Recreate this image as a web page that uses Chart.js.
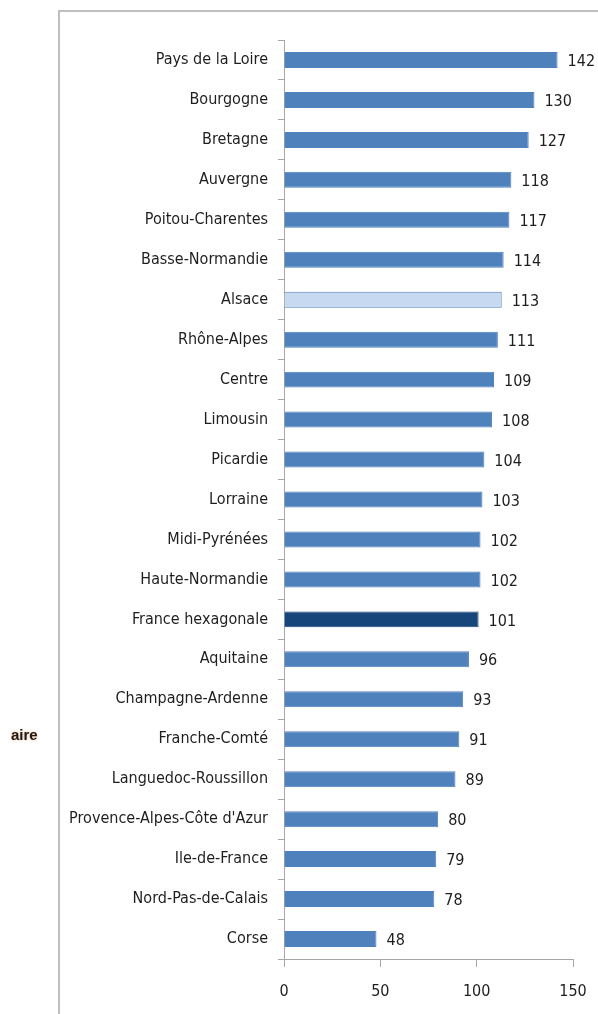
<!DOCTYPE html>
<html>
<head>
<meta charset="utf-8">
<script src="https://cdn.jsdelivr.net/npm/chart.js@4"></script>
<style>
  html, body { margin: 0; padding: 0; background: #fff; }
  #wrap { position: relative; width: 598px; height: 1014px; }
  #side { position: absolute; left: 11px; top: 726px; font: bold 15px "Liberation Sans", Arial, sans-serif; color: #1a1a1a; text-shadow: 0 0 3px #f5b48a; }
</style>
</head>
<body>
<div id="wrap">
  <canvas id="chart" width="598" height="1014"></canvas>
  <div id="side">aire</div>
</div>
<script>
// Regions, sorted as in the source chart
const regions = [
    'Pays de la Loire', 'Bourgogne', 'Bretagne', 'Auvergne', 'Poitou-Charentes',
    'Basse-Normandie', 'Alsace', 'Rhône-Alpes', 'Centre', 'Limousin', 'Picardie',
    'Lorraine', 'Midi-Pyrénées', 'Haute-Normandie', 'France hexagonale', 'Aquitaine',
    'Champagne-Ardenne', 'Franche-Comté', 'Languedoc-Roussillon',
    "Provence-Alpes-Côte d'Azur", 'Ile-de-France', 'Nord-Pas-de-Calais', 'Corse'
];
const values = [142, 130, 127, 118, 117, 114, 113, 111, 109, 108, 104, 103, 102, 102, 101, 96, 93, 91, 89, 80, 79, 78, 48];
const xTicks = [0, 50, 100, 150];

const highlightRegion = 'Alsace';
const referenceRegion = 'France hexagonale';

const colors = {
    bar: '#4F81BD',
    highlight: '#C6D9F1',
    reference: '#17477A',
    axis: '#A6A6A6',
    frame: '#BFBFBF',
    text: '#1e1e1e'
};
const fontFamily = '"Liberation Sans Narrow", "DejaVu Sans Condensed", Arial, sans-serif';

const fills = regions.map(r => r === highlightRegion ? colors.highlight : (r === referenceRegion ? colors.reference : colors.bar));
const borders = regions.map((r, i) => r === highlightRegion ? colors.bar : fills[i]);

// frame around the plot (from the original document)
const framePlugin = {
    id: 'frame',
    beforeDraw(chart) {
        const ctx = chart.ctx;
        ctx.save();
        ctx.strokeStyle = colors.frame;
        ctx.lineWidth = 2;
        ctx.beginPath();
        ctx.moveTo(59, 1014);
        ctx.lineTo(59, 11);
        ctx.lineTo(598, 11);
        ctx.stroke();
        ctx.restore();
    }
};

// value labels at the end of each bar
const valueLabels = {
    id: 'valueLabels',
    afterDatasetsDraw(chart) {
        const ctx = chart.ctx;
        const meta = chart.getDatasetMeta(0);
        ctx.save();
        ctx.font = '16px ' + fontFamily;
        ctx.fillStyle = colors.text;
        ctx.textAlign = 'left';
        ctx.textBaseline = 'middle';
        meta.data.forEach((bar, i) => {
            ctx.fillText(String(values[i]), bar.x + 10, bar.y + 2);
        });
        ctx.restore();
    }
};

new Chart(document.getElementById('chart'), {
    type: 'bar',
    data: {
        labels: regions,
        datasets: [{
            data: values,
            backgroundColor: fills,
            borderColor: borders,
            borderWidth: 1,
            categoryPercentage: 1,
            barPercentage: 0.4
        }]
    },
    options: {
        indexAxis: 'y',
        responsive: false,
        animation: false,
        layout: { padding: { top: 40, right: 25, left: 0, bottom: 0 } },
        plugins: { legend: { display: false }, tooltip: { enabled: false } },
        scales: {
            y: {
                afterFit(scale) { scale.width = 284; scale.paddingTop = 0; scale.paddingBottom = 0; },
                grid: { drawOnChartArea: false, tickLength: 6, color: colors.axis, offset: true },
                border: { color: colors.axis, width: 1 },
                ticks: { color: colors.text, padding: 10, font: { family: fontFamily, size: 16 } }
            },
            x: {
                min: 0,
                max: 150,
                afterFit(scale) { scale.height = 55; scale.paddingLeft = 0; scale.paddingRight = 0; },
                afterBuildTicks(scale) { scale.ticks = xTicks.map(v => ({ value: v })); },
                grid: { drawOnChartArea: false, tickLength: 8, color: colors.axis },
                border: { color: colors.axis, width: 1 },
                ticks: { color: colors.text, padding: 15, font: { family: fontFamily, size: 16 } }
            }
        }
    },
    plugins: [framePlugin, valueLabels]
});
</script>
</body>
</html>
